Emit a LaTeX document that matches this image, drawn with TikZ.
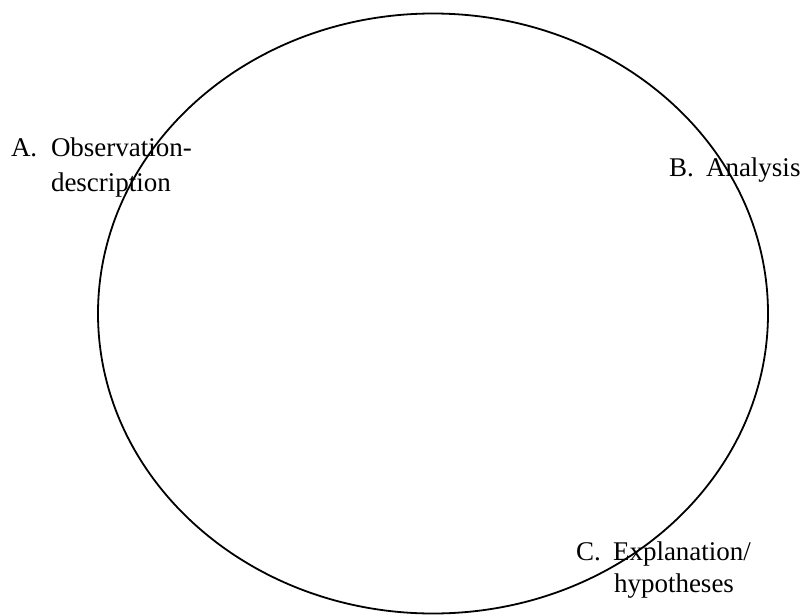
\documentclass[tikz,border=0pt]{standalone}
\usepackage{fontspec}
\setmainfont{Liberation Serif}
\begin{document}
\begin{tikzpicture}[x=1pt,y=-1pt,
  lbl/.style={inner sep=0pt,outer sep=0pt,anchor=base west,
    font=\fontsize{27}{35}\selectfont}]
\useasboundingbox (0,0) rectangle (801,616);
\draw[line width=1.8pt] (433,313.5) ellipse[x radius=335, y radius=300];
\node[lbl] (aL) at (11,156) {A.};
\node[lbl] (aT1) at (51,156) {Observation-};
\node[lbl] (aT2) at (51,191) {description};
\node[lbl] (bL) at (669,176) {B.};
\node[lbl] (bT) at (706,176) {Analysis};
\node[lbl] (cL) at (576,560) {C.};
\node[lbl] (cT1) at (613,560) {Explanation/};
\node[lbl] (cT2) at (614,592) {hypotheses};
\end{tikzpicture}
\end{document}
